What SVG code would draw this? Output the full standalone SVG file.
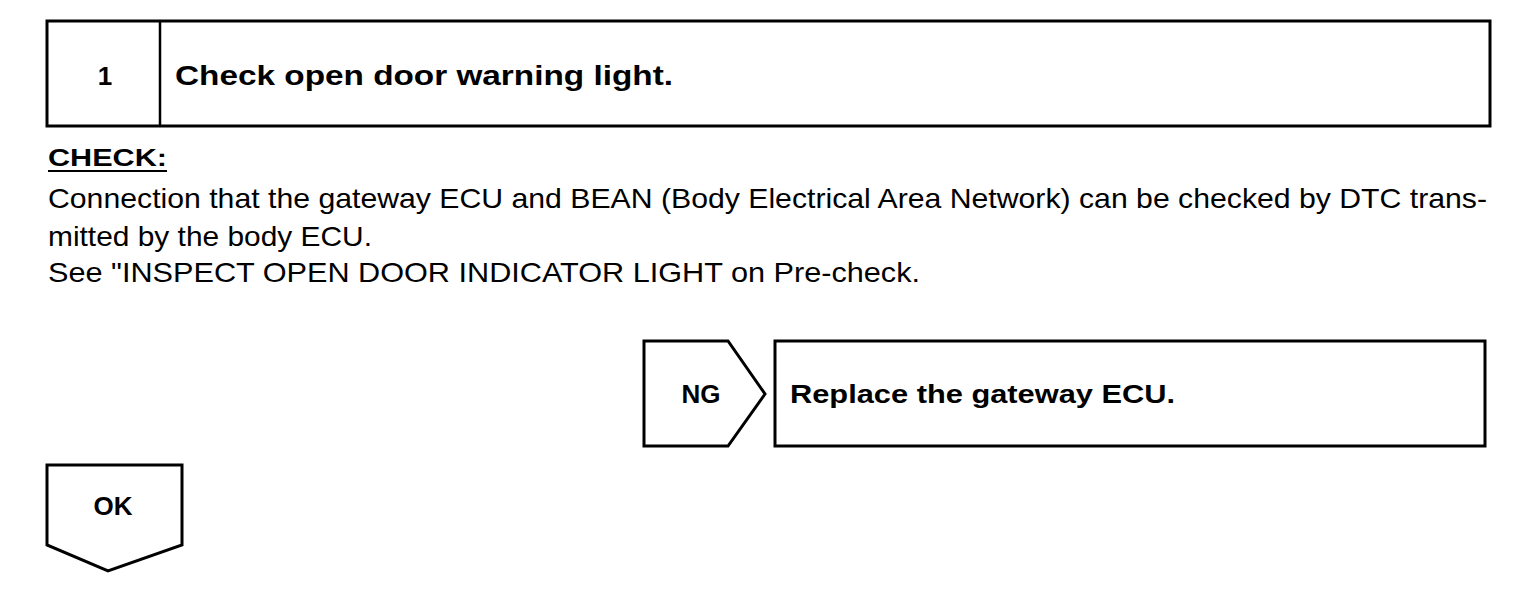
<svg xmlns="http://www.w3.org/2000/svg" width="1536" height="614" viewBox="0 0 1536 614">
<style>
.box{fill:#fff;stroke:#000;stroke-width:3}
.b{font-family:"Liberation Sans",Arial,sans-serif;font-weight:bold;fill:#000}
.t{font-family:"Liberation Sans",Arial,sans-serif;fill:#000;font-size:28px}
</style>
<rect width="1536" height="614" fill="#fff"/>
<g id="step1">
<rect class="box" x="47" y="21" width="1443" height="105"/>
<line x1="160" y1="21" x2="160" y2="126" stroke="#000" stroke-width="2.5"/>
<text class="b" x="105" y="85" font-size="26" text-anchor="middle">1</text>
<text class="b" x="175" y="85" font-size="27" textLength="498" lengthAdjust="spacingAndGlyphs">Check open door warning light.</text>
</g>
<g id="check">
<text class="b" x="48" y="166" font-size="24" textLength="119" lengthAdjust="spacingAndGlyphs">CHECK:</text>
<line x1="48" y1="171" x2="167" y2="171" stroke="#000" stroke-width="2"/>
<text class="t" x="48" y="208" textLength="1439" lengthAdjust="spacingAndGlyphs">Connection that the gateway ECU and BEAN (Body Electrical Area Network) can be checked by DTC trans-</text>
<text class="t" x="48" y="246" textLength="324" lengthAdjust="spacingAndGlyphs">mitted by the body ECU.</text>
<text class="t" x="48" y="282" textLength="872" lengthAdjust="spacingAndGlyphs">See "INSPECT OPEN DOOR INDICATOR LIGHT on Pre-check.</text>
</g>
<g id="connectors">
<g id="ng">
<polygon class="box" points="644,341 728,341 765,394 728,446 644,446"/>
<text class="b" x="701" y="403" font-size="26" text-anchor="middle">NG</text>
</g>
<g id="ok">
<polygon class="box" points="47,465 182,465 182,545 108,571 47,545"/>
<text class="b" x="113" y="515" font-size="26" text-anchor="middle">OK</text>
</g>
</g>
<g id="replace">
<rect class="box" x="775" y="341" width="710" height="105"/>
<text class="b" x="790" y="403" font-size="26" textLength="385" lengthAdjust="spacingAndGlyphs">Replace the gateway ECU.</text>
</g>
</svg>
